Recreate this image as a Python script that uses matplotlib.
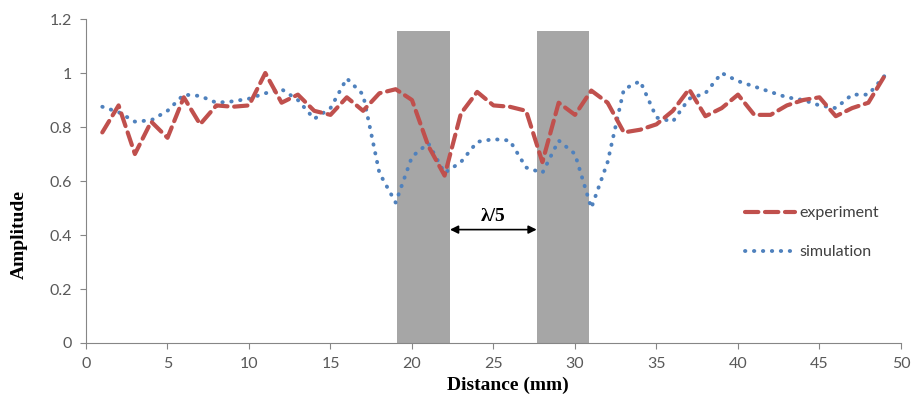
import matplotlib.pyplot as plt

# distance (mm) and amplitudes
distance = list(range(1, 50))
experiment = [0.78, 0.88, 0.70, 0.82, 0.76, 0.91, 0.81, 0.88, 0.875, 0.88,
              1.00, 0.89, 0.92, 0.86, 0.845, 0.91, 0.86, 0.925, 0.94, 0.90,
              0.73, 0.62, 0.85, 0.93, 0.88, 0.875, 0.86, 0.67, 0.89, 0.845,
              0.935, 0.89, 0.78, 0.79, 0.81, 0.86, 0.94, 0.84, 0.87, 0.92,
              0.845, 0.845, 0.88, 0.90, 0.91, 0.84, 0.87, 0.89, 0.99]
simulation = [0.875, 0.855, 0.82, 0.825, 0.86, 0.92, 0.915, 0.89, 0.895, 0.905,
              0.925, 0.94, 0.90, 0.83, 0.87, 0.98, 0.92, 0.63, 0.52, 0.69,
              0.74, 0.63, 0.67, 0.745, 0.755, 0.75, 0.65, 0.63, 0.75, 0.70,
              0.50, 0.67, 0.94, 0.97, 0.835, 0.82, 0.905, 0.925, 1.00, 0.97,
              0.95, 0.93, 0.91, 0.90, 0.88, 0.87, 0.92, 0.92, 0.99]

# grey blocks (start, end) in mm and their height
blocks = [(19.08, 22.33), (27.65, 30.84)]
block_top = 1.156

fig = plt.figure(figsize=(9.11, 3.98), dpi=100)
ax = fig.add_axes([0.0944, 0.1382, 0.8946, 0.8140])

for x0, x1 in blocks:
    ax.bar(x0, block_top, width=x1 - x0, align='edge', color='#a6a6a6', zorder=1)

ax.plot(distance, experiment, color='#c0504d', lw=3, ls=(0, (3.2, 1.6)),
        dash_capstyle='round', label='experiment', zorder=3)
ax.plot(distance, simulation, color='#4f81bd', lw=2.8, ls=(0, (0.1, 2.2)),
        dash_capstyle='round', solid_capstyle='round', label='simulation', zorder=2)

# lambda/5 spacing arrow between the blocks
ax.annotate('', xy=(blocks[0][1], 0.42), xytext=(blocks[1][0], 0.42),
            arrowprops=dict(arrowstyle='<|-|>', color='black', lw=1.2,
                            mutation_scale=12, shrinkA=0, shrinkB=0))
ax.text((blocks[0][1] + blocks[1][0]) / 2, 0.47, 'λ/5', ha='center', va='center',
        fontsize=14, fontweight='bold', family='Liberation Serif')

ax.set_xlim(0, 50)
ax.set_ylim(0, 1.2)
ax.set_xticks(range(0, 51, 5))
ax.set_yticks([0, 0.2, 0.4, 0.6, 0.8, 1.0, 1.2])
ax.set_yticklabels(['0', '0.2', '0.4', '0.6', '0.8', '1', '1.2'])
for s in ['top', 'right']:
    ax.spines[s].set_visible(False)
for s in ['left', 'bottom']:
    ax.spines[s].set_color('#868686')
ax.tick_params(direction='out', length=4, color='#868686', labelcolor='#595959',
               labelsize=11.5, pad=6)
for lab in ax.get_xticklabels() + ax.get_yticklabels():
    lab.set_family('Lato')

ax.set_xlabel('Distance (mm)', fontsize=14, fontweight='bold', family='Liberation Serif')
ax.xaxis.set_label_coords(0.518, -0.103)
ax.set_ylabel('Amplitude', fontsize=14, fontweight='bold', family='Liberation Serif')
ax.yaxis.set_label_coords(-0.071, 0.336)

leg = ax.legend(loc='upper left', bbox_to_anchor=(745 / 911, 1 - 206 / 398),
                bbox_transform=fig.transFigure, frameon=False, borderpad=0,
                borderaxespad=0, handlelength=3.1, handletextpad=0.3,
                labelspacing=1.55, prop={'family': 'Lato', 'size': 11.5})
for t in leg.get_texts():
    t.set_color('#404040')

fig.savefig('out.png', dpi=100)
